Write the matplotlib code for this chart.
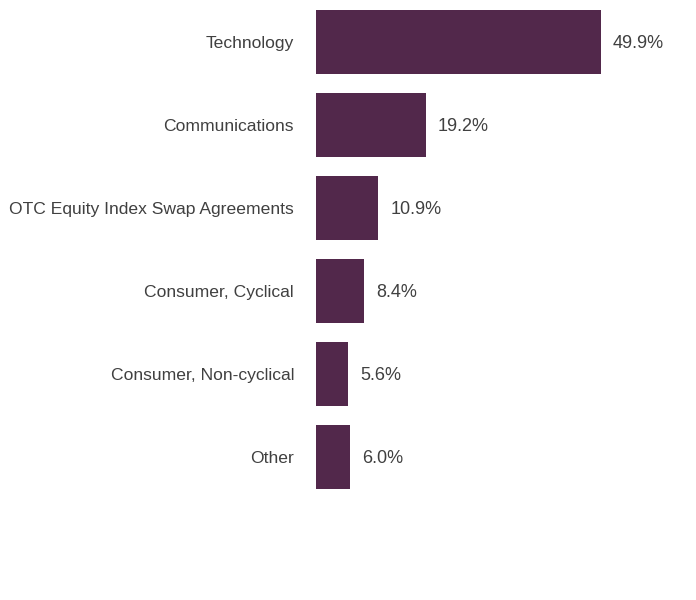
import matplotlib.pyplot as plt

categories = ['Technology', 'Communications', 'OTC Equity Index Swap Agreements',
              'Consumer, Cyclical', 'Consumer, Non-cyclical', 'Other']
values = [49.9, 19.2, 10.9, 8.4, 5.6, 6.0]
labels = ['49.9%', '19.2%', '10.9%', '8.4%', '5.6%', '6.0%']

plt.rcParams['font.family'] = ['Liberation Sans', 'DejaVu Sans']

bar_color = '#52284B'
text_color = '#404040'

fig = plt.figure(figsize=(6.96, 6.0), dpi=100)
ax = fig.add_axes([316 / 696, 0, 380 / 696, 1])

y = list(range(len(categories)))
ax.barh(y, values, height=0.78, color=bar_color)

for i, v in enumerate(values):
    ax.text(v + 2.1, i + 0.02, labels[i], va='center', ha='left', fontsize=13, color=text_color)

ax.set_xlim(0, 380 / 5.71)
ax.set_ylim(558 / 83, -42 / 83)
ax.set_yticks(y)
ax.set_yticklabels(categories, fontsize=12.6, color=text_color)
ax.tick_params(axis='y', length=0, pad=15.8)
ax.set_xticks([])
for s in ax.spines.values():
    s.set_visible(False)

plt.savefig('out.png', dpi=100)
